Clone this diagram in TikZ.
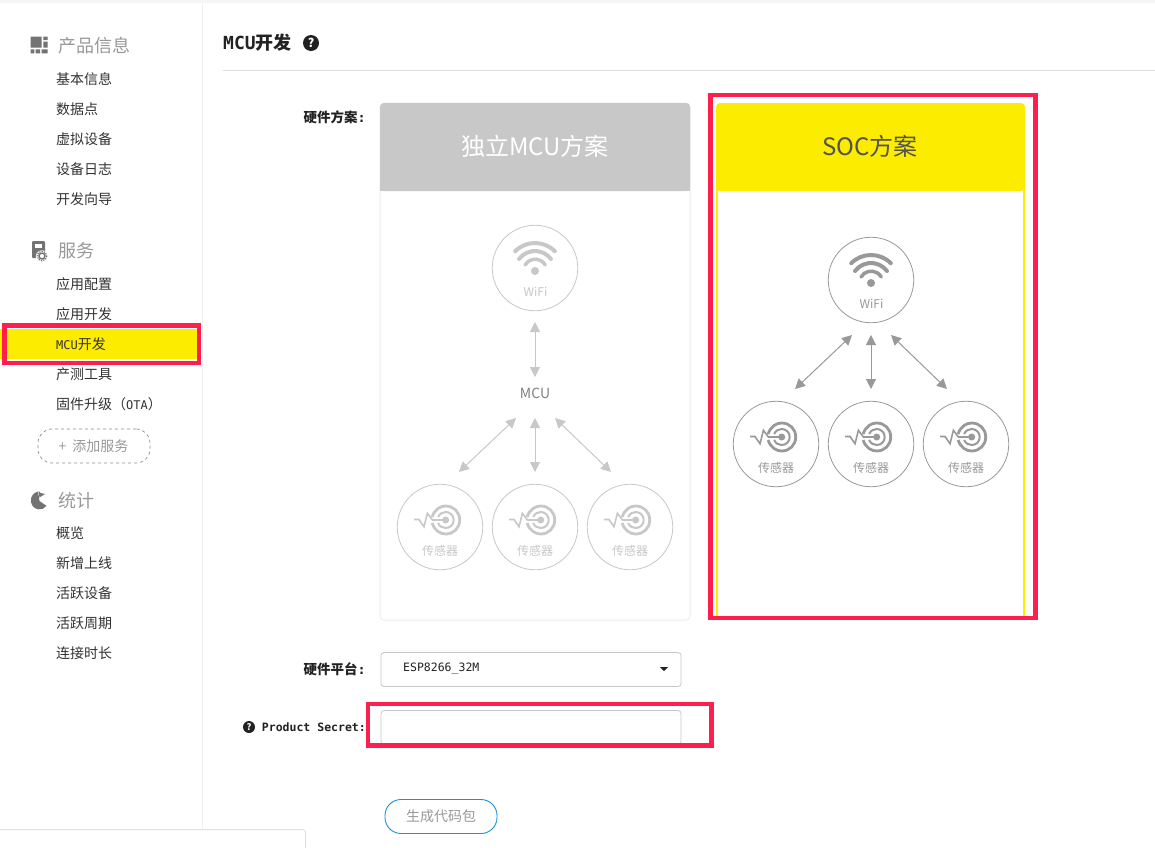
\documentclass[tikz,border=0pt]{standalone}
\usepackage{fontspec}
\setmainfont{Noto Sans CJK SC}
\newfontfamily\mnf{DejaVu Sans Mono}
\usetikzlibrary{arrows.meta}
\definecolor{redbox}{HTML}{FF1F4E}
\definecolor{yel}{HTML}{FBEC00}
\definecolor{txt}{HTML}{333333}
\definecolor{head}{HTML}{999999}
\definecolor{ink}{HTML}{222222}
\definecolor{soc}{HTML}{999999}
\definecolor{mcu}{HTML}{C8C8C8}
\definecolor{btn}{HTML}{1B93DB}
\newcommand{\ml}[1]{{\mnf #1}}
\tikzset{
  x=1pt,y=-1pt,
  item/.style={anchor=west,inner sep=0pt,text=txt,font=\fontsize{14}{14}\selectfont},
  headtext/.style={anchor=west,inner sep=0pt,text=head,font=\fontsize{18}{18}\selectfont},
  formlabel/.style={anchor=east,inner sep=0pt,text=ink,font=\fontsize{13.5}{13.5}\selectfont\bfseries},
  field/.style={draw=black!22,line width=.8pt,rounded corners=3pt,fill=white},
  round node/.style={circle,draw=#1,line width=.8pt,minimum size=85.5pt,inner sep=0pt,fill=white},
  biarrow/.style={draw=#1,line width=1pt,{Triangle[length=10pt,width=10pt]}-{Triangle[length=10pt,width=10pt]}},
  qmark/.style={circle,fill=ink,text=white,inner sep=0pt,font=\bfseries},
}
% wifi icon: #1 node name, #2 colour, #3 text colour
\newcommand{\wifiicon}[3]{
  \begin{scope}[shift={(#1)}]
    \fill[#2] (0,3) circle (4);
    \draw[#2,line width=4pt,line cap=round] (-19.8,-16.8) arc[start angle=225,end angle=315,radius=28];
    \draw[#2,line width=4pt,line cap=round] (-16,-9) arc[start angle=217,end angle=323,radius=20];
    \draw[#2,line width=3.5pt,line cap=round] (-10,-3) arc[start angle=210,end angle=330,radius=11.7];
    \node[inner sep=0pt,text=#3,font=\fontsize{12}{12}\selectfont] at (0.5,23.5) {WiFi};
  \end{scope}}
% sensor icon
\newcommand{\sensoricon}[3]{
  \begin{scope}[shift={(#1)}]
    \begin{scope}[shift={(5.7,-7)}]
      \fill[#2] (0,0) circle (3.5);
      \draw[#2,line width=2.8pt] (-13.6,-3) .. controls (-11,-11) and (-5,-14) .. (0,-14) .. controls (8,-14) and (14,-8) .. (14,0) .. controls (14,8) and (8,14) .. (0,14) .. controls (-5,14) and (-11,11) .. (-13.6,3);
      \draw[#2,line width=2pt] (-7.6,-3) .. controls (-6,-6.5) and (-3,-8) .. (0,-8) .. controls (4.5,-8) and (8,-4.5) .. (8,0) .. controls (8,4.5) and (4.5,8) .. (0,8) .. controls (-3,8) and (-6,6.5) .. (-7.6,3);
      \draw[#2,line width=1.6pt] (-31.7,-.5) -- (-26.7,-.5) -- (-21.7,6.7) -- (-18.3,-6.7) -- (-13.3,0) -- (0,0);
    \end{scope}
    \node[inner sep=0pt,text=#3,font=\fontsize{12}{12}\selectfont] at (0,24) {传感器};
  \end{scope}}
\begin{document}
\begin{tikzpicture}
\useasboundingbox (0,0) rectangle (1155,847);
\fill[white] (0,0) rectangle (1155,847);
\fill[black!4] (0,0) rectangle (1155,3);
\draw[black!6,line width=1pt] (202.5,3) -- (202.5,829);
\draw[black!14,line width=1pt] (223,70.5) -- (1155,70.5);

% sidebar highlight
\fill[yel] (0,329) rectangle (198,359);
\node[draw=redbox,line width=4.5pt,inner sep=0pt,minimum width=194.5pt,minimum height=37.5pt] (sidebox) at (101.75,344.25) {};

% sidebar icons
\fill[head!75!black] (30.7,36.7) rectangle (41.7,47.7) (43.3,36.7) rectangle (47.7,40) (43.3,41.7) rectangle (47.7,47.7)
  (30.7,49.3) rectangle (34.3,53.3) (35.7,49.3) rectangle (40,53.3) (41.7,49.3) rectangle (47.7,53.3);
\fill[head!75!black,rounded corners=1pt] (32,241) rectangle (45,258);
\fill[white] (35,244) rectangle (42,248);
\fill[white] (42,256.5) circle (6.2);
\draw[head!75!black,line width=1.4pt] (42,256) circle (3);
\draw[head!75!black,line width=1.2pt,dash pattern=on 1.2pt off 1.2pt] (42,256) circle (4.8);
\fill[head!75!black] (39.5,501) -- (41,492.6) arc[start angle=-80,end angle=-325,radius=8.5] -- cycle;
\fill[white] (39.5,501) -- (36.5,490) -- (48,490) -- (49,503) -- cycle;
\fill[head!75!black] (39.5,497.5) -- (38.5,490.8) -- (40.5,493) -- (45,494) -- cycle;
\fill[head!75!black] (31,500) arc[start angle=180,end angle=260,radius=8.5] -- (39.5,501) -- cycle;

% sidebar text
\node[headtext] (h1) at (58,45.5) {产品信息};
\node[item] (a1) at (56,79) {基本信息};
\node[item] (a2) at (56,109) {数据点};
\node[item] (a3) at (56,139) {虚拟设备};
\node[item] (a4) at (56,169) {设备日志};
\node[item] (a5) at (56,199) {开发向导};
\node[headtext] (h2) at (58,250.5) {服务};
\node[item] (b1) at (56,284) {应用配置};
\node[item] (b2) at (56,314) {应用开发};
\node[item] (b3) at (56,344) {\fontsize{12}{12}\selectfont\ml{MCU}\fontsize{14}{14}\selectfont 开发};
\node[item] (b4) at (56,374) {产测工具};
\node[item] (b5) at (56,404) {固件升级（\fontsize{12}{12}\selectfont\ml{OTA}\fontsize{14}{14}\selectfont）};
\node[draw=black!45,dashed,line width=.7pt,rounded corners=14pt,minimum width=112pt,minimum height=34pt,inner sep=0pt] (addsvc) at (94,446) {};
\node[anchor=west,inner sep=0pt,text=head,font=\fontsize{14}{14}\selectfont] (addtxt) at (58.5,446) {+\hspace{6pt}添加服务};
\node[headtext] (h3) at (58,500.5) {统计};
\node[item] (c1) at (56,533) {概览};
\node[item] (c2) at (56,563) {新增上线};
\node[item] (c3) at (56,593) {活跃设备};
\node[item] (c4) at (56,623) {活跃周期};
\node[item] (c5) at (56,653) {连接时长};

% title
\node[anchor=west,inner sep=0pt,text=ink,font=\fontsize{18}{18}\selectfont\bfseries] (title) at (223,43) {\ml{MCU}开发};
\node[qmark,minimum size=16pt,font=\fontsize{12}{12}\selectfont\bfseries] (q1) at (311,43) {?};

% form labels
\node[formlabel] (l1) at (366,117) {硬件方案\ml{:}};
\node[formlabel] (l2) at (366,669) {硬件平台\ml{:}};
\node[anchor=east,inner sep=0pt,text=ink,font=\fontsize{11.5}{12}\selectfont\bfseries\mnf] (l3) at (366,727) {Product Secret:};
\node[qmark,minimum size=12pt,font=\fontsize{9}{9}\selectfont\bfseries] (q2) at (249,727) {?};

% left card
\draw[black!7,line width=1pt,fill=white,rounded corners=4pt] (380,103) rectangle (690,620);
\fill[mcu,rounded corners=4pt] (380,103) -- (690,103) -- (690,191) -- (380,191) -- cycle;
\fill[mcu] (380,150) rectangle (690,191);
\node[text=white,inner sep=0pt,font=\fontsize{24}{24}\selectfont] (t1) at (535,146) {独立MCU方案};

\node[round node=mcu] (lw) at (535,268) {};
\wifiicon{lw}{mcu}{mcu}
\node[inner sep=0pt,text=black!50,font=\fontsize{14}{14}\selectfont] (lm) at (535,393) {MCU};
\node[round node=mcu] (ls1) at (440,527) {};
\node[round node=mcu] (ls2) at (535,527) {};
\node[round node=mcu] (ls3) at (630,527) {};
\sensoricon{ls1}{mcu}{mcu}
\sensoricon{ls2}{mcu}{mcu}
\sensoricon{ls3}{mcu}{mcu}
\coordinate (lwb) at (535,322);
\coordinate (lmt) at (535,377);
\coordinate (lmb) at (535,418);
\coordinate (lml) at (516,418);
\coordinate (lmr) at (555,418);
\coordinate (ls1t) at (459,472);
\coordinate (ls2t) at (535,472);
\coordinate (ls3t) at (611,472);
\draw[biarrow=mcu] (lwb) -- (lmt);
\draw[biarrow=mcu] (lml) -- (ls1t);
\draw[biarrow=mcu] (lmb) -- (ls2t);
\draw[biarrow=mcu] (lmr) -- (ls3t);

% right card
\fill[white] (717,104) rectangle (1024,618);
\draw[yel,line width=2pt] (717,150) -- (717,618) (1024,150) -- (1024,618);
\fill[yel,rounded corners=4pt] (716,103) -- (1025,103) -- (1025,191) -- (716,191) -- cycle;
\node[text=black!68,inner sep=0pt,font=\fontsize{24}{24}\selectfont] (t2) at (870,146) {SOC方案};

\node[round node=soc] (rw) at (871,280) {};
\wifiicon{rw}{soc}{soc}
\node[round node=soc] (rs1) at (776,444) {};
\node[round node=soc] (rs2) at (871,444) {};
\node[round node=soc] (rs3) at (966,444) {};
\sensoricon{rs1}{soc}{soc}
\sensoricon{rs2}{soc}{soc}
\sensoricon{rs3}{soc}{soc}
\coordinate (rwb) at (871,335);
\coordinate (rwl) at (852,335);
\coordinate (rwr) at (891,335);
\coordinate (rs1t) at (795,389);
\coordinate (rs2t) at (871,389);
\coordinate (rs3t) at (947,389);
\draw[biarrow=soc] (rwl) -- (rs1t);
\draw[biarrow=soc] (rwb) -- (rs2t);
\draw[biarrow=soc] (rwr) -- (rs3t);

\node[draw=redbox,line width=4.5pt,inner sep=0pt,minimum width=325pt,minimum height=523pt] (socbox) at (873,356.5) {};

% fields
\node[field,minimum width=300pt,minimum height=34pt,inner sep=0pt] (sel) at (531,669.5) {};
\node[anchor=west,inner sep=0pt,text=ink,font=\fontsize{11.5}{12}\selectfont\mnf] (seltxt) at (403,669) {ESP8266\_32M};
\fill[ink] (660,667) -- (668,667) -- (664,671) -- cycle;
\node[field,minimum width=300pt,minimum height=34pt,inner sep=0pt] (inp) at (531,727.5) {};
\node[draw=redbox,line width=4.5pt,inner sep=0pt,minimum width=343.5pt,minimum height=41.5pt] (inbox) at (539.75,724.75) {};

% button
\node[draw=btn,line width=.9pt,rounded corners=16pt,minimum width=112pt,minimum height=34pt,inner sep=0pt,text=head,font=\fontsize{14}{14}\selectfont] (gen) at (441,816.5) {生成代码包};

% bottom-left panel
\draw[black!12,line width=1pt,rounded corners=3pt] (0,829.5) -- (305.5,829.5) -- (305.5,850);
\end{tikzpicture}
\end{document}
